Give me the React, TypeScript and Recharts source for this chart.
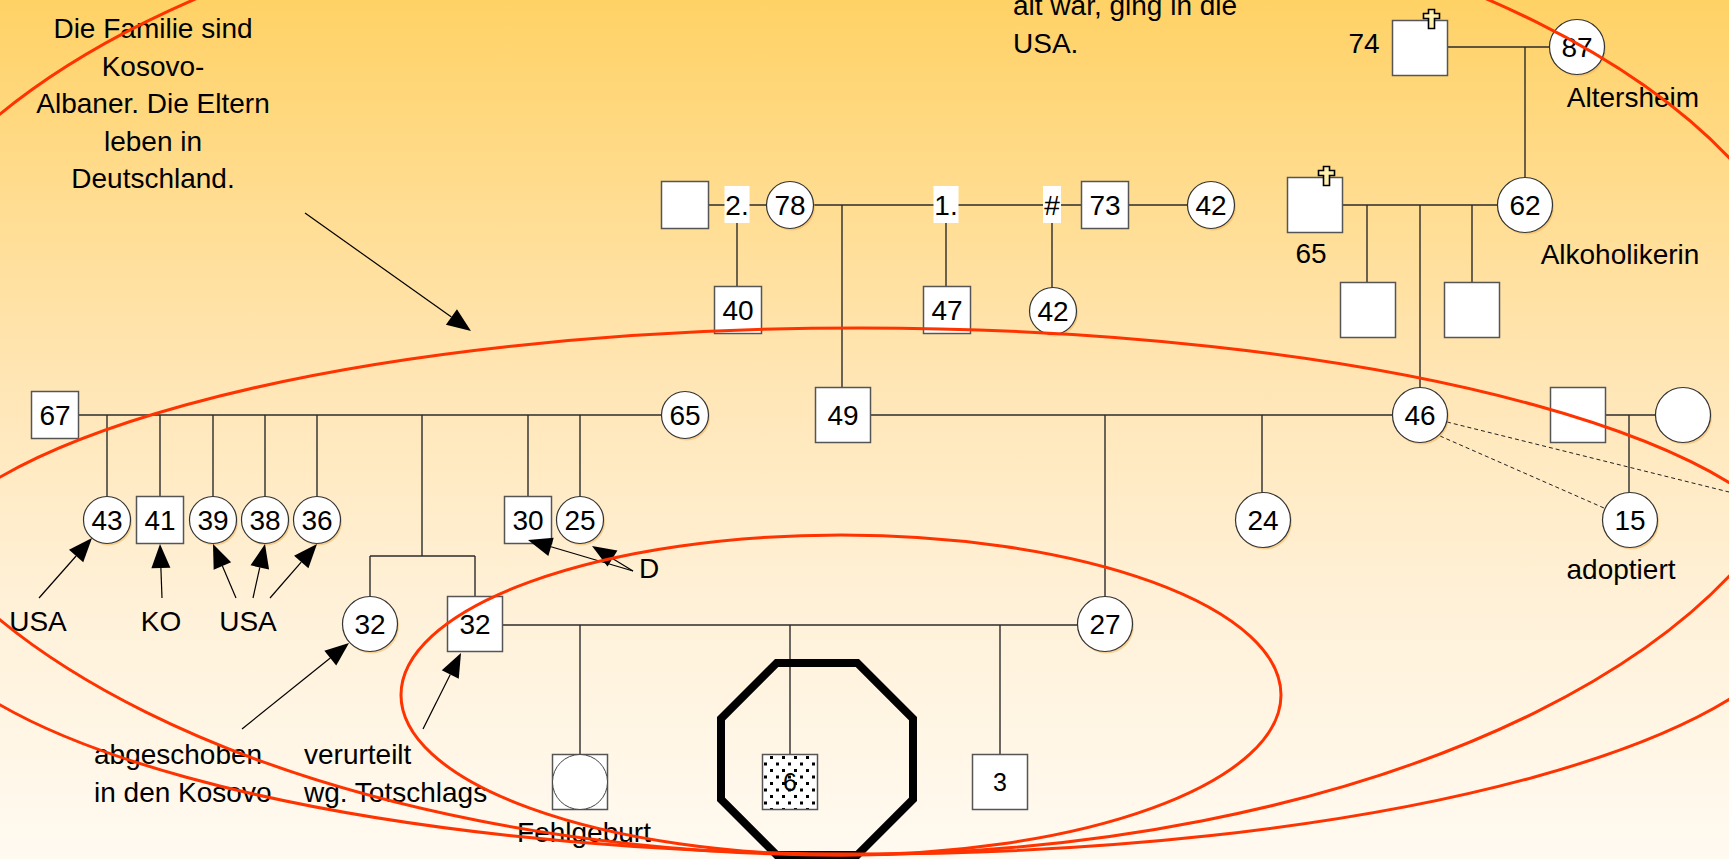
import React from 'react';
import { ScatterChart, Scatter, XAxis, YAxis, ReferenceLine, ReferenceArea } from 'recharts';

const W = 1729;
const H = 859;
const FONT = "'Liberation Sans', Arial, Helvetica, sans-serif";
const RED = '#FF3300';

// genogram coordinates: one unit on each axis is one pixel of the slide
type Person = { id: string; x: number; y: number; sex: 'm' | 'f' | 'miscarriage' | 'index'; age?: string; dead?: boolean };

const grandparents: Person[] = [
  { id: 'gf2', x: 685, y: 205, sex: 'm' },
  { id: 'gm78', x: 790, y: 205, sex: 'f', age: '78' },
  { id: 'gf73', x: 1105, y: 205, sex: 'm', age: '73' },
  { id: 'w42', x: 1211, y: 205, sex: 'f', age: '42' },
  { id: 'u40', x: 738, y: 310, sex: 'm', age: '40' },
  { id: 'u47', x: 947, y: 310, sex: 'm', age: '47' },
  { id: 'a42', x: 1053, y: 311, sex: 'f', age: '42' },
  { id: 'ggf74', x: 1420, y: 48, sex: 'm', dead: true },
  { id: 'ggm87', x: 1577, y: 47, sex: 'f', age: '87' },
  { id: 'gf65', x: 1315, y: 205, sex: 'm', dead: true },
  { id: 'gm62', x: 1525, y: 205, sex: 'f', age: '62' },
  { id: 'mu1', x: 1368, y: 310, sex: 'm' },
  { id: 'mu2', x: 1472, y: 310, sex: 'm' },
];

const parents: Person[] = [
  { id: 'f67', x: 55, y: 415, sex: 'm', age: '67' },
  { id: 'm65', x: 685, y: 415, sex: 'f', age: '65' },
  { id: 'k43', x: 107, y: 520, sex: 'f', age: '43' },
  { id: 'k41', x: 160, y: 520, sex: 'm', age: '41' },
  { id: 'k39', x: 213, y: 520, sex: 'f', age: '39' },
  { id: 'k38', x: 265, y: 520, sex: 'f', age: '38' },
  { id: 'k36', x: 317, y: 520, sex: 'f', age: '36' },
  { id: 'k30', x: 528, y: 520, sex: 'm', age: '30' },
  { id: 'k25', x: 580, y: 520, sex: 'f', age: '25' },
  { id: 'p49', x: 843, y: 415, sex: 'm', age: '49' },
  { id: 'm46', x: 1420, y: 415, sex: 'f', age: '46' },
  { id: 'd24', x: 1263, y: 520, sex: 'f', age: '24' },
  { id: 'rm', x: 1578, y: 415, sex: 'm' },
  { id: 'rf', x: 1683, y: 415, sex: 'f' },
  { id: 'a15', x: 1630, y: 520, sex: 'f', age: '15' },
];

const household: Person[] = [
  { id: 'c32f', x: 370, y: 624, sex: 'f', age: '32' },
  { id: 's32', x: 475, y: 624, sex: 'm', age: '32' },
  { id: 'w27', x: 1105, y: 624, sex: 'f', age: '27' },
  { id: 'fehl', x: 580, y: 782, sex: 'miscarriage' },
  { id: 'idx6', x: 790, y: 782, sex: 'index', age: '6' },
  { id: 'c3', x: 1000, y: 782, sex: 'm', age: '3' },
];

const bigSymbols = new Set(['ggf74', 'ggm87', 'gf65', 'gm62', 'mu1', 'mu2', 'p49', 'm46', 'd24', 'rm', 'rf', 'a15', 'c32f', 's32', 'w27', 'fehl', 'idx6', 'c3']);
const smallDigits = new Set(['idx6', 'c3']);

const unionMarks = [
  { x: 737, y: 205, text: '2.' },
  { x: 946, y: 205, text: '1.' },
  { x: 1052, y: 205, text: '#' },
];

const notes = [
  { id: 'intro', x: 153, y: 38, lines: ['Die Familie sind', 'Kosovo-', 'Albaner. Die Eltern', 'leben in', 'Deutschland.'] },
  { id: 'top', x: 1013, y: 15, lines: ['alt war, ging in die', 'USA.'] },
  { id: 'n74', x: 1364, y: 53, lines: ['74'] },
  { id: 'alt', x: 1633, y: 107, lines: ['Altersheim'] },
  { id: 'n65', x: 1311, y: 263, lines: ['65'] },
  { id: 'alk', x: 1620, y: 264, lines: ['Alkoholikerin'] },
  { id: 'usa1', x: 38, y: 631, lines: ['USA'] },
  { id: 'ko', x: 161, y: 631, lines: ['KO'] },
  { id: 'usa2', x: 248, y: 631, lines: ['USA'] },
  { id: 'd', x: 649, y: 578, lines: ['D'] },
  { id: 'adopt', x: 1621, y: 579, lines: ['adoptiert'] },
  { id: 'abg', x: 94, y: 764, lines: ['abgeschoben', 'in den Kosovo'] },
  { id: 'ver', x: 304, y: 764, lines: ['verurteilt', 'wg. Totschlags'] },
  { id: 'fehlg', x: 584, y: 842, lines: ['Fehlgeburt'] },
];
const leftAligned = new Set(['top', 'abg', 'ver']);

// [x1, y1, x2, y2]
const lines = [
  [708, 205, 766, 205], [814, 205, 1082, 205], [1128, 205, 1187, 205],
  [737, 205, 737, 287], [946, 205, 946, 287], [1052, 205, 1052, 288], [842, 205, 842, 388],
  [1448, 47, 1550, 47], [1525, 47, 1525, 178], [1343, 205, 1498, 205],
  [1367, 205, 1367, 283], [1420, 205, 1420, 388], [1472, 205, 1472, 283],
  [79, 415, 662, 415],
  [107, 415, 107, 497], [160, 415, 160, 497], [213, 415, 213, 497], [265, 415, 265, 497], [317, 415, 317, 497],
  [422, 415, 422, 556], [528, 415, 528, 497], [580, 415, 580, 497],
  [370, 556, 475, 556], [370, 556, 370, 597], [475, 556, 475, 597],
  [870, 415, 1393, 415], [1105, 415, 1105, 597], [1262, 415, 1262, 493],
  [1606, 415, 1655, 415], [1629, 415, 1629, 493],
  [503, 625, 1078, 625], [580, 625, 580, 754], [790, 625, 790, 754], [1000, 625, 1000, 754],
];

const dashed = [
  [1447, 422, 1729, 492],
  [1440, 436, 1604, 508],
];

// [tailX, tailY, tipX, tipY]
const arrows = [
  [305, 213, 471, 331],
  [39, 598, 92, 538],
  [162, 598, 160, 544],
  [236, 598, 213, 544],
  [253, 598, 265, 544],
  [270, 598, 317, 544],
  [633, 571, 528, 540],
  [633, 571, 592, 546],
  [242, 729, 349, 643],
  [423, 729, 461, 653],
];

const ellipses = [
  { cx: 841, cy: 367, rx: 983, ry: 488 },
  { cx: 860, cy: 591, rx: 954, ry: 263 },
  { cx: 841, cy: 695, rx: 440, ry: 160 },
];

const octagon = { x1: 721, x2: 913, y1: 663, y2: 855 };

function PersonShape(props: any) {
  const { cx, cy, payload } = props;
  if (cx == null || cy == null) return <g />;
  const p = payload as Person;
  const h = bigSymbols.has(p.id) ? 27.5 : 23.5;
  const fs = smallDigits.has(p.id) ? 25 : 28;
  const label = p.age ? (
    <text x={cx} y={cy + fs * 0.36} textAnchor="middle" fontSize={fs} fontFamily={FONT} fill="#000">{p.age}</text>
  ) : null;
  if (p.sex === 'f') {
    return (
      <g>
        <ellipse cx={cx + 1.5} cy={cy + 2} rx={h} ry={h} fill="#EFAE52" opacity={0.5} />
        <ellipse cx={cx} cy={cy} rx={h} ry={h} fill="#fff" stroke="#333" strokeWidth={1.2} />
        {label}
      </g>
    );
  }
  const sq = <rect x={cx - h} y={cy - h} width={2 * h} height={2 * h} fill="#fff" stroke="#555" strokeWidth={1.5} />;
  if (p.sex === 'miscarriage') {
    return (
      <g>
        {sq}
        <ellipse cx={cx} cy={cy} rx={h} ry={h} fill="#fff" stroke="#444" strokeWidth={1} />
      </g>
    );
  }
  if (p.sex === 'index') {
    return (
      <g>
        <defs>
          <pattern id="dotFill" width="12" height="13" patternUnits="userSpaceOnUse">
            <rect width="12" height="13" fill="#fff" />
            <rect x="2" y="2" width="3" height="3" fill="#000" />
            <rect x="8" y="8.5" width="3" height="3" fill="#000" />
          </pattern>
        </defs>
        <rect x={cx - h} y={cy - h} width={2 * h} height={2 * h} fill="url(#dotFill)" stroke="#555" strokeWidth={1.5} />
        {label}
      </g>
    );
  }
  let cross = null;
  if (p.dead) {
    const c = cx + h - 16;
    const t = cy - h - 11;
    const pts = [
      [c - 3, t], [c + 3, t], [c + 3, t + 4], [c + 8, t + 4], [c + 8, t + 9], [c + 3, t + 9],
      [c + 3, t + 19], [c - 3, t + 19], [c - 3, t + 9], [c - 8, t + 9], [c - 8, t + 4], [c - 3, t + 4],
    ].map((q) => q.join(',')).join(' ');
    cross = <polygon points={pts} fill="#FFF1B0" stroke="#000" strokeWidth={1.6} />;
  }
  return (
    <g>
      {sq}
      {label}
      {cross}
    </g>
  );
}

function UnionShape(props: any) {
  const { cx, cy, payload } = props;
  if (cx == null) return <g />;
  const w = payload.text === '#' ? 18 : 25;
  return (
    <g>
      <rect x={cx - w / 2} y={cy - 19} width={w} height={37} fill="#fff" />
      <text x={cx} y={cy + 10} textAnchor="middle" fontSize={28} fontFamily={FONT} fill="#000">{payload.text}</text>
    </g>
  );
}

function NoteShape(props: any) {
  const { cx, cy, payload } = props;
  if (cx == null) return <g />;
  const left = leftAligned.has(payload.id);
  return (
    <text textAnchor={left ? 'start' : 'middle'} fontSize={28} fontFamily={FONT} fill="#000">
      {payload.lines.map((l: string, i: number) => (
        <tspan key={i} x={cx} y={cy + i * 37.5}>{l}</tspan>
      ))}
    </text>
  );
}

function ArrowShape(props: any) {
  const { x1, y1, x2, y2 } = props;
  const dx = x2 - x1;
  const dy = y2 - y1;
  const len = Math.hypot(dx, dy) || 1;
  const ux = dx / len;
  const uy = dy / len;
  const L = 24;
  const hw = 9.5;
  const bx = x2 - ux * L;
  const by = y2 - uy * L;
  return (
    <g>
      <line x1={x1} y1={y1} x2={bx} y2={by} stroke="#000" strokeWidth={1.2} />
      <polygon points={`${x2},${y2} ${bx - uy * hw},${by + ux * hw} ${bx + uy * hw},${by - ux * hw}`} fill="#000" />
    </g>
  );
}

function EllipseShape(props: any) {
  const { x, y, width, height } = props;
  return <ellipse cx={x + width / 2} cy={y + height / 2} rx={width / 2} ry={height / 2} fill="none" stroke={RED} strokeWidth={3} />;
}

function OctagonShape(props: any) {
  const { x, y, width, height } = props;
  const cx = width * 0.29;
  const cy = height * 0.29;
  const pts = [
    [x + cx, y], [x + width - cx, y], [x + width, y + cy], [x + width, y + height - cy],
    [x + width - cx, y + height], [x + cx, y + height], [x, y + height - cy], [x, y + cy],
  ].map((q) => q.join(',')).join(' ');
  return <polygon points={pts} fill="none" stroke="#000" strokeWidth={8} strokeLinejoin="miter" />;
}

export default function App() {
  return (
    <div
      style={{
        position: 'absolute',
        left: 0,
        top: 0,
        width: W,
        height: H,
        background: 'linear-gradient(to bottom, #FFD266 0%, #FFDC8E 22%, #FFE6B6 45%, #FFF1D8 70%, #FFFAF1 100%)',
      }}
    >
      <ScatterChart width={W} height={H} margin={{ top: 0, right: 0, bottom: 0, left: 0 }}>
        <XAxis type="number" dataKey="x" domain={[0, W]} allowDataOverflow hide />
        <YAxis type="number" dataKey="y" domain={[0, H]} allowDataOverflow reversed hide />
        {lines.map((s, i) => (
          <ReferenceLine
            key={'l' + i}
            segment={[{ x: s[0], y: s[1] }, { x: s[2], y: s[3] }]}
            stroke="#2b2b2b"
            strokeWidth={1.4}
            ifOverflow="visible"
            zIndex={300}
          />
        ))}
        {dashed.map((s, i) => (
          <ReferenceLine
            key={'d' + i}
            segment={[{ x: s[0], y: s[1] }, { x: s[2], y: s[3] }]}
            stroke="#222"
            strokeWidth={1}
            strokeDasharray="4 3"
            ifOverflow="visible"
            zIndex={300}
          />
        ))}
        <Scatter data={[...grandparents, ...parents, ...household]} shape={PersonShape} isAnimationActive={false} zIndex={600} />
        <Scatter data={unionMarks} shape={UnionShape} isAnimationActive={false} zIndex={650} />
        <Scatter data={notes} shape={NoteShape} isAnimationActive={false} zIndex={700} />
        {arrows.map((a, i) => (
          <ReferenceLine
            key={'a' + i}
            segment={[{ x: a[0], y: a[1] }, { x: a[2], y: a[3] }]}
            shape={ArrowShape}
            ifOverflow="visible"
            zIndex={800}
          />
        ))}
        <ReferenceArea
          x1={octagon.x1}
          x2={octagon.x2}
          y1={octagon.y1}
          y2={octagon.y2}
          shape={OctagonShape}
          ifOverflow="visible"
          zIndex={900}
        />
        {ellipses.map((e, i) => (
          <ReferenceArea
            key={'e' + i}
            x1={e.cx - e.rx}
            x2={e.cx + e.rx}
            y1={e.cy - e.ry}
            y2={e.cy + e.ry}
            shape={EllipseShape}
            ifOverflow="visible"
            zIndex={1000}
          />
        ))}
      </ScatterChart>
    </div>
  );
}
